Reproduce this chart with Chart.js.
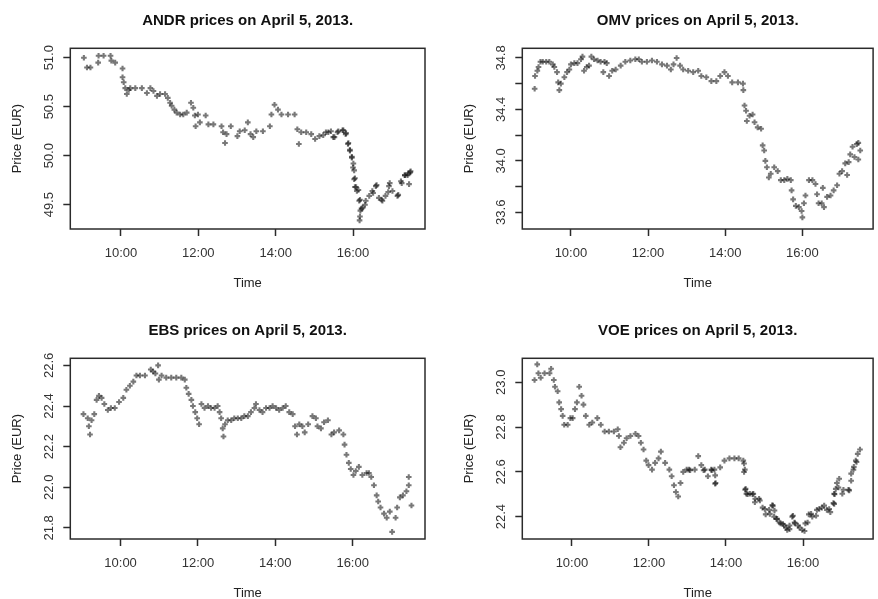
<!DOCTYPE html>
<html>
<head>
<meta charset="utf-8">
<script src="https://cdn.jsdelivr.net/npm/chart.js@4.4.1/dist/chart.umd.min.js"></script>
<style>
  html, body { margin: 0; padding: 0; background: #fff; overflow: hidden; width: 878px; height: 599px; }
  canvas { position: absolute; }
</style>
</head>
<body>
<canvas id="c1" width="439" height="300" style="left:0px;top:0px;width:439px;height:300px"></canvas>
<canvas id="c2" width="439" height="300" style="left:439px;top:0px;width:439px;height:300px"></canvas>
<canvas id="c3" width="439" height="300" style="left:0px;top:310px;width:439px;height:300px"></canvas>
<canvas id="c4" width="439" height="300" style="left:439px;top:310px;width:439px;height:300px"></canvas>
<script>
// ---- data (time in decimal hours, price in EUR) ----
const andrTimes = [9.04,9.12,9.21,9.41,9.42,9.55,9.73,9.75,9.85,10.04,10.04,10.07,10.11,10.15,10.20,10.24,10.37,10.54,10.67,10.76,10.84,10.93,11.01,11.14,11.21,11.27,11.31,11.38,11.44,11.53,11.61,11.70,11.81,11.87,11.91,11.93,11.99,12.04,12.19,12.26,12.39,12.60,12.64,12.69,12.73,12.84,13.01,13.07,13.20,13.28,13.35,13.42,13.50,13.67,13.85,13.89,13.97,14.06,14.15,14.32,14.49,14.56,14.60,14.66,14.79,14.92,15.02,15.13,15.30,15.43,15.52,15.60,15.73,15.81,15.87,15.92,15.97,16.00,16.03,16.05,16.10,16.16,16.19,16.17,16.25,16.33,16.42,16.50,16.59,16.67,16.76,16.84,16.93,17.02,17.15,17.24,17.34,17.41,17.48,17.45,
  15.23,15.36,15.49,15.62,15.75,15.82,15.88,15.92,15.97,16.01,16.03,16.05,16.08,16.14,16.18,16.22,16.18,16.31,16.52,16.61,16.74,16.91,16.95,17.17,17.26,17.34,17.43,17.49];
const andrPrices = [51.00,50.90,50.90,50.95,51.02,51.02,51.02,50.97,50.95,50.89,50.80,50.75,50.69,50.63,50.67,50.69,50.69,50.69,50.64,50.69,50.66,50.61,50.63,50.63,50.59,50.54,50.51,50.47,50.44,50.42,50.42,50.44,50.54,50.49,50.41,50.30,50.42,50.34,50.41,50.32,50.32,50.30,50.24,50.13,50.22,50.30,50.20,50.25,50.26,50.34,50.22,50.19,50.25,50.25,50.30,50.42,50.52,50.47,50.42,50.42,50.42,50.27,50.12,50.24,50.24,50.22,50.17,50.20,50.24,50.25,50.19,50.24,50.26,50.22,50.12,50.05,49.98,49.88,49.76,49.68,49.64,49.54,49.44,49.34,49.47,49.54,49.59,49.64,49.69,49.57,49.54,49.59,49.69,49.64,49.59,49.74,49.80,49.80,49.83,49.71,
  50.21,50.24,50.19,50.25,50.26,50.23,50.13,50.06,49.99,49.92,49.85,49.77,49.68,49.65,49.55,49.46,49.38,49.50,49.62,49.70,49.55,49.63,49.72,49.60,49.72,49.80,49.82,49.84];

const omvTimes = [9.06,9.07,9.13,9.16,9.21,9.27,9.36,9.44,9.53,9.57,9.64,9.67,9.70,9.74,9.83,9.90,9.96,10.00,10.09,10.17,10.26,10.30,10.34,10.41,10.47,10.53,10.60,10.69,10.77,10.84,10.87,10.93,10.99,11.07,11.16,11.29,11.41,11.54,11.67,11.76,11.84,11.97,12.10,12.23,12.36,12.49,12.59,12.66,12.74,12.83,12.91,13.04,13.17,13.30,13.38,13.51,13.64,13.77,13.87,13.98,14.07,14.18,14.33,14.46,14.47,14.50,14.54,14.56,14.63,14.71,14.76,14.84,14.93,14.97,15.01,15.04,15.08,15.13,15.18,15.27,15.36,15.44,15.53,15.61,15.70,15.72,15.76,15.83,15.91,15.98,16.00,16.04,16.08,16.17,16.26,16.34,16.38,16.42,16.50,16.53,16.56,16.64,16.73,16.81,16.90,16.96,17.03,17.11,17.16,17.20,17.24,17.30,17.35,17.41,17.45,17.50,17.45];
const omvPrices = [34.56,34.66,34.70,34.73,34.77,34.77,34.77,34.77,34.75,34.73,34.69,34.61,34.55,34.60,34.65,34.69,34.71,34.75,34.76,34.76,34.79,34.81,34.70,34.73,34.74,34.81,34.79,34.78,34.77,34.69,34.77,34.76,34.66,34.70,34.71,34.74,34.77,34.78,34.79,34.79,34.77,34.77,34.78,34.77,34.75,34.74,34.71,34.75,34.80,34.74,34.71,34.70,34.69,34.70,34.66,34.65,34.62,34.62,34.66,34.69,34.66,34.61,34.61,34.60,34.55,34.43,34.39,34.31,34.35,34.36,34.30,34.26,34.25,34.12,34.08,34.00,33.95,33.87,33.90,33.95,33.92,33.85,33.85,33.86,33.85,33.77,33.70,33.65,33.64,33.61,33.56,33.67,33.73,33.85,33.85,33.82,33.74,33.67,33.67,33.79,33.64,33.72,33.73,33.77,33.81,33.90,33.92,33.98,33.89,33.99,34.05,34.11,34.03,34.13,34.14,34.08,34.01];

const ebsTimes = [9.04,9.15,9.18,9.21,9.25,9.32,9.38,9.44,9.51,9.58,9.67,9.75,9.85,9.96,10.07,10.15,10.24,10.33,10.41,10.50,10.63,10.78,10.84,10.90,10.97,10.99,11.06,11.18,11.31,11.44,11.57,11.66,11.70,11.76,11.83,11.87,11.93,11.98,12.03,12.09,12.17,12.26,12.34,12.43,12.51,12.56,12.60,12.64,12.66,12.70,12.77,12.86,12.94,13.03,13.12,13.20,13.29,13.37,13.46,13.50,13.59,13.67,13.76,13.85,13.93,14.02,14.10,14.19,14.27,14.36,14.45,14.51,14.56,14.62,14.70,14.76,14.85,14.96,15.05,15.09,15.18,15.26,15.36,15.45,15.52,15.65,15.76,15.79,15.84,15.90,15.95,16.02,16.08,16.16,16.25,16.36,16.42,16.48,16.55,16.62,16.66,16.72,16.81,16.88,16.96,17.02,17.11,17.15,17.22,17.30,17.39,17.45,17.45,17.52];
const ebsPrices = [22.36,22.34,22.30,22.26,22.33,22.36,22.43,22.45,22.44,22.41,22.38,22.39,22.39,22.42,22.44,22.48,22.50,22.52,22.55,22.55,22.55,22.58,22.57,22.56,22.60,22.53,22.55,22.54,22.54,22.54,22.54,22.53,22.49,22.46,22.43,22.40,22.37,22.34,22.31,22.41,22.39,22.40,22.39,22.39,22.40,22.37,22.34,22.29,22.25,22.31,22.33,22.33,22.34,22.34,22.34,22.35,22.35,22.37,22.39,22.41,22.38,22.37,22.39,22.39,22.40,22.39,22.38,22.39,22.40,22.37,22.36,22.30,22.26,22.31,22.30,22.27,22.31,22.35,22.34,22.30,22.29,22.32,22.33,22.26,22.27,22.28,22.26,22.21,22.16,22.12,22.09,22.06,22.08,22.10,22.06,22.07,22.07,22.05,22.01,21.96,21.93,21.90,21.87,21.85,21.88,21.78,21.85,21.90,21.95,21.96,21.98,22.01,22.05,21.91];

const voeTimes = [9.03,9.10,9.13,9.19,9.29,9.42,9.46,9.53,9.56,9.63,9.67,9.72,9.76,9.80,9.89,9.96,10.02,10.08,10.13,10.19,10.25,10.30,10.36,10.45,10.53,10.66,10.75,10.85,10.96,11.09,11.19,11.22,11.26,11.35,11.42,11.52,11.65,11.73,11.79,11.86,11.93,11.99,12.08,12.16,12.25,12.31,12.42,12.53,12.59,12.65,12.70,12.76,12.82,12.89,12.98,13.04,13.19,13.28,13.36,13.45,13.53,13.62,13.70,13.73,13.85,13.96,14.09,14.22,14.33,14.45,14.49,14.50,14.56,14.69,14.76,14.86,14.95,15.03,15.12,15.20,15.25,15.33,15.42,15.51,15.59,15.65,15.72,15.79,15.87,15.98,16.06,16.15,16.24,16.36,16.49,16.62,16.71,16.79,16.82,16.88,16.92,17.05,17.18,17.25,17.31,17.37,17.42,17.48,
  13.07,13.42,13.63,13.72,13.72,14.47,14.47,14.51,14.53,14.62,14.71,14.75,14.88,15.01,15.14,15.22,15.26,15.31,15.39,15.48,15.56,15.65,15.74,15.78,15.91,16.04,16.12,16.21,16.34,16.42,16.55,16.68,16.81,16.81,16.85,16.94,17.02,17.20,17.25,17.32,17.39];
const voePrices = [23.01,23.08,23.04,23.02,23.04,23.04,23.06,23.01,22.98,22.96,22.91,22.88,22.85,22.81,22.81,22.84,22.84,22.88,22.91,22.98,22.94,22.90,22.85,22.81,22.82,22.84,22.81,22.78,22.78,22.78,22.79,22.76,22.71,22.73,22.75,22.76,22.77,22.76,22.73,22.70,22.65,22.63,22.61,22.64,22.66,22.69,22.64,22.61,22.58,22.54,22.51,22.49,22.55,22.60,22.61,22.61,22.61,22.67,22.63,22.61,22.58,22.61,22.61,22.55,22.62,22.65,22.66,22.66,22.66,22.65,22.61,22.52,22.50,22.50,22.48,22.48,22.44,22.41,22.43,22.45,22.40,22.39,22.37,22.36,22.34,22.36,22.40,22.37,22.36,22.34,22.37,22.41,22.40,22.43,22.44,22.43,22.42,22.46,22.50,22.55,22.53,22.52,22.52,22.56,22.61,22.65,22.68,22.70,
  22.607,22.607,22.607,22.584,22.547,22.637,22.599,22.524,22.502,22.502,22.502,22.464,22.472,22.434,22.412,22.449,22.427,22.389,22.374,22.367,22.351,22.344,22.404,22.374,22.351,22.336,22.374,22.412,22.404,22.434,22.449,22.434,22.457,22.502,22.524,22.569,22.502,22.517,22.592,22.622,22.644];

// tick positions and the tick labels that are printed
const timeTicks = [10, 12, 14, 16];
const andrTicks = [49.5, 50.0, 50.5, 51.0];
const andrLabels = [49.5, 50.0, 50.5, 51.0];
const omvTicks = [33.6, 33.8, 34.0, 34.2, 34.4, 34.6, 34.8];
const omvLabels = [33.6, 34.0, 34.4, 34.8];
const ebsTicks = [21.8, 22.0, 22.2, 22.4, 22.6];
const ebsLabels = [21.8, 22.0, 22.2, 22.4, 22.6];
const voeTicks = [22.4, 22.6, 22.8, 23.0];
const voeLabels = [22.4, 22.6, 22.8, 23.0];

const titles = ['ANDR prices on April 5, 2013.', 'OMV prices on April 5, 2013.', 'EBS prices on April 5, 2013.', 'VOE prices on April 5, 2013.'];

// ---- drawing ----
const FONT = "'Liberation Sans', Arial, Helvetica, sans-serif";
const INK = '#2b2b2b';

const boxPlugin = {
  id: 'box',
  afterDatasetsDraw(chart) {
    const a = chart.chartArea, ctx = chart.ctx;
    ctx.save();
    ctx.strokeStyle = INK;
    ctx.lineWidth = 1.5;
    ctx.strokeRect(a.left, a.top, a.right - a.left, a.bottom - a.top);
    ctx.restore();
  }
};

function fmtTime(v) { return String(Math.floor(v)).padStart(2, '0') + ':00'; }

function makeChart(id, title, times, prices, yTicks, yLabels, xRange, yRange, padLeft, padRight) {
  const n = Math.min(times.length, prices.length);
  const pts = [];
  for (let i = 0; i < n; i++) pts.push({ x: times[i], y: prices[i] });
  return new Chart(document.getElementById(id), {
    type: 'scatter',
    data: { datasets: [{
      data: pts,
      pointStyle: 'cross',
      pointRadius: 2.8,
      pointBorderWidth: 2.1,
      borderColor: 'rgba(10,10,10,0.55)',
      backgroundColor: 'rgba(10,10,10,0.55)',
      pointHoverRadius: 2.8
    }]},
    options: {
      responsive: false,
      animation: false,
      events: [],
      layout: { padding: { left: padLeft, right: padRight, top: 0, bottom: 0 } },
      plugins: {
        legend: { display: false },
        tooltip: { enabled: false },
        title: {
          display: true, text: title, fullSize: false, color: '#111',
          font: { family: FONT, size: 15, weight: 'bold', lineHeight: 1.2 },
          padding: { top: 12, bottom: 18.3 }
        }
      },
      scales: {
        x: {
          type: 'linear', min: xRange[0], max: xRange[1],
          afterBuildTicks(s) { s.ticks = timeTicks.map(v => ({ value: v })); },
          afterFit(s) { s.height = 71; },
          grid: { display: true, drawOnChartArea: false, drawTicks: true, tickLength: 7, tickWidth: 1.5, tickColor: INK },
          border: { display: false },
          ticks: { color: '#333', font: { family: FONT, size: 13 }, padding: 10, maxRotation: 0, autoSkip: false, callback: v => fmtTime(v) },
          title: { display: true, text: 'Time', color: '#222', font: { family: FONT, size: 13 }, padding: { top: 0, bottom: 9.2 } }
        },
        y: {
          type: 'linear', min: yRange[0], max: yRange[1],
          afterBuildTicks(s) { s.ticks = yTicks.map(v => ({ value: v })); },
          afterFit(s) { s.width = 70.3; },
          grid: { display: true, drawOnChartArea: false, drawTicks: true, tickLength: 7, tickWidth: 1.5, tickColor: INK },
          border: { display: false },
          ticks: { color: '#333', font: { family: FONT, size: 13 }, padding: 1, minRotation: 90, maxRotation: 90, crossAlign: 'center', autoSkip: false,
            callback: v => yLabels.some(l => Math.abs(l - v) < 1e-6) ? Number(v).toFixed(1) : '' },
          title: { display: true, text: 'Price (EUR)', color: '#222', font: { family: FONT, size: 13 }, padding: { top: 9.5, bottom: 0 } }
        }
      }
    },
    plugins: [boxPlugin]
  });
}

makeChart('c1', titles[0], andrTimes, andrPrices, andrTicks, andrLabels, [8.689, 17.862], [49.252, 51.096], 0, 14);
makeChart('c2', titles[1], omvTimes, omvPrices, omvTicks, omvLabels, [8.74, 17.833], [33.470, 34.875], 13, 2);
makeChart('c3', titles[2], ebsTimes, ebsPrices, ebsTicks, ebsLabels, [8.70, 17.87], [21.745, 22.635], 0, 14);
makeChart('c4', titles[3], voeTimes, voePrices, voeTicks, voeLabels, [8.712, 17.82], [22.300, 23.107], 13, 2);
</script>
</body>
</html>
